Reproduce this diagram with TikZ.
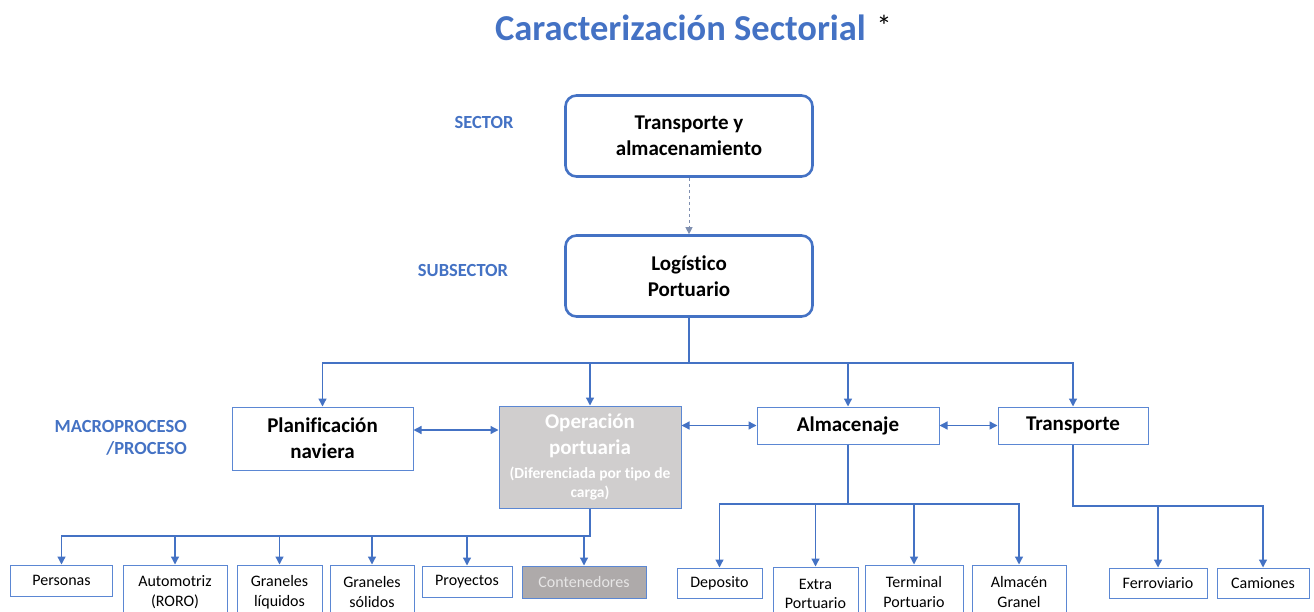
\documentclass[tikz,border=0pt]{standalone}
\usepackage{fontspec}
\setmainfont{Carlito}[Ligatures=NoCommon]
\usetikzlibrary{arrows.meta,calc}
\definecolor{mblue}{HTML}{4472C4}
\definecolor{lblue}{HTML}{5B87D3}
\definecolor{opgray}{HTML}{D0CECE}
\definecolor{contgray}{HTML}{AEAAAA}
\definecolor{conttext}{HTML}{E7E6E6}
\definecolor{dashcol}{HTML}{7F8FB0}
\begin{document}
\begin{tikzpicture}[x=1pt,y=-1pt,
  big/.style={draw=mblue, line width=2.6pt, rounded corners=11pt, minimum width=247pt, minimum height=81pt, align=center, inner sep=0pt, font=\fontsize{21}{26}\selectfont\bfseries},
  mid/.style={draw=lblue, line width=1pt, align=center, inner sep=0pt, font=\fontsize{21}{26}\selectfont\bfseries},
  leaf/.style={draw=lblue, line width=1pt, align=center, inner sep=0pt, font=\fontsize{16}{19.5}\selectfont},
  lab/.style={text=mblue, inner sep=0pt, font=\fontsize{18.5}{21.5}\selectfont\bfseries},
  conn/.style={draw=mblue, line width=1.3pt, -{Triangle[length=8pt,width=8pt]}},
  biconn/.style={draw=mblue, line width=1.3pt, {Triangle[length=8pt,width=8pt]}-{Triangle[length=8pt,width=8pt]}},
  dconn/.style={draw=dashcol, line width=0.7pt, dashed, -{Triangle[length=7pt,width=7pt]}}
]
\useasboundingbox (0,0) rectangle (1314,612);
\clip (0,0) rectangle (1314,612);

% title
\node[text=mblue, font=\fontsize{36.5}{40}\selectfont\bfseries, inner sep=0pt] (title) at (680.5,28) {Caracterización Sectorial};
\node[font=\fontsize{30}{34}\selectfont, inner sep=0pt] (star) at (884,26) {*};

% level labels
\node[lab] (lsector) at (484,122) {SECTOR};
\node[lab] (lsub) at (463,271) {SUBSECTOR};
\node[lab, align=right, anchor=east] (lmacro) at (187,438) {MACROPROCESO\\/PROCESO};

% top boxes
\node[big] (top) at (689,136) {Transporte y\\almacenamiento};
\node[big] (log) at (689,276) {Logístico\\Portuario};

% macroprocesses
\node[mid, minimum width=181pt, minimum height=63pt] (plan) at (322.5,438.5) {Planificación\\naviera};
\node[mid, fill=opgray, text=white, minimum width=182pt, minimum height=102pt] (oper) at (590,457)
  {Operación\\portuaria\\[-2pt]{\fontsize{15.5}{18}\selectfont (Diferenciada por tipo de}\\[-7pt]{\fontsize{15.5}{18}\selectfont carga)}};
\node[mid, minimum width=182pt, minimum height=37pt] (alm) at (848,425.5) {Almacenaje};
\node[mid, minimum width=150pt, minimum height=37pt] (trans) at (1073,425.5) {Transporte};

% leaves of Operación portuaria
\node[leaf, minimum width=102pt, minimum height=31pt] (pers) at (61.5,580.5) {Personas};
\node[leaf, minimum width=104pt, minimum height=54pt] (auto) at (175,592) {Automotriz\\(RORO)};
\node[leaf, minimum width=85pt, minimum height=54pt] (gliq) at (279.5,592) {Graneles\\líquidos};
\node[leaf, minimum width=84pt, minimum height=54pt] (gsol) at (372,592) {Graneles\\sólidos};
\node[leaf, minimum width=90pt, minimum height=31pt] (proy) at (467,581.5) {Proyectos};
\node[leaf, fill=contgray, text=conttext, minimum width=124pt, minimum height=32pt] (cont) at (584,582) {Contenedores};

% leaves of Almacenaje
\node[leaf, minimum width=85pt, minimum height=30pt] (dep) at (719.5,583) {Deposito};
\node[leaf, minimum width=85pt, minimum height=54pt] (extra) at (815.5,594) {Extra\\Portuario};
\node[leaf, minimum width=98pt, minimum height=54pt] (term) at (914,592) {Terminal\\Portuario};
\node[leaf, minimum width=94pt, minimum height=54pt] (almg) at (1019,592) {Almacén\\Granel};

% leaves of Transporte
\node[leaf, minimum width=98pt, minimum height=30pt] (ferro) at (1158,583) {Ferroviario};
\node[leaf, minimum width=92pt, minimum height=30pt] (cam) at (1263,583) {Camiones};

% bus levels
\coordinate (b0) at (0,363);
\coordinate (b1) at (0,536);
\coordinate (b2) at (0,504);
\coordinate (b3) at (0,506);

% connectors
\draw[dconn] (top.south) -- (log.north);

\foreach \t in {plan,oper,alm,trans}
  \draw[conn] (log.south) -- (log.south |- b0) -| (\t.north);

\foreach \t in {pers,auto,gliq,gsol,proy,cont}
  \draw[conn] (oper.south) -- (oper.south |- b1) -| (\t.north);

\foreach \t in {dep,extra,term,almg}
  \draw[conn] (alm.south) -- (alm.south |- b2) -| (\t.north);

\foreach \t in {ferro,cam}
  \draw[conn] (trans.south) -- (trans.south |- b3) -| (\t.north);

\draw[biconn] ([yshift=8.5pt]plan.east) -- ([yshift=8.5pt]plan.east -| oper.west);
\draw[biconn] (oper.east |- alm.west) -- (alm.west);
\draw[biconn] (alm.east) -- (trans.west);
\end{tikzpicture}
\end{document}
